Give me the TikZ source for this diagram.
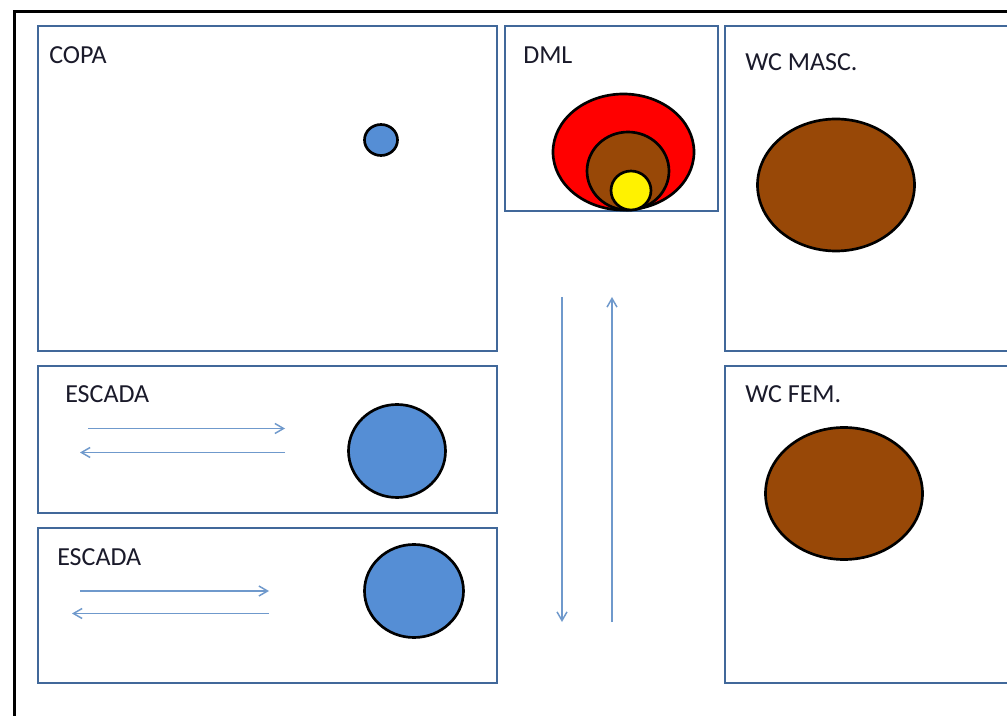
\documentclass[tikz,border=0pt]{standalone}
\usepackage{fontspec}
\setmainfont{Carlito}
\usetikzlibrary{arrows.meta,shapes.geometric}
\definecolor{boxblue}{HTML}{41689A}
\definecolor{arrowblue}{HTML}{6F99CC}
\definecolor{discblue}{HTML}{558ED5}
\definecolor{discbrown}{HTML}{984807}
\definecolor{labelink}{HTML}{1A1A2A}
\tikzset{
  x=0.75pt,y=-0.75pt,
  roombox/.style={draw=boxblue,line width=2.2pt,fill=white,rectangle,inner sep=0pt,outer sep=0pt},
  disc/.style={draw=black,line width=2pt,ellipse,inner sep=0pt,outer sep=0pt},
  flow/.style={draw=arrowblue,line width=1.1pt,-{Straight Barb[length=6.5pt,width=7.5pt,line width=1.1pt]}},
  label/.style={anchor=west,inner sep=0pt,font=\fontsize{19.5pt}{22pt}\selectfont,text=labelink},
}
\newcommand{\roomnode}[5]{\node[roombox,minimum width=#4*0.75pt,minimum height=#5*0.75pt] (#1) at (#2,#3) {};}
\newcommand{\discnode}[6]{\node[disc,fill=#6,minimum width=#4*0.75pt,minimum height=#5*0.75pt] (#1) at (#2,#3) {};}
\begin{document}
\begin{tikzpicture}
\useasboundingbox (0,0) rectangle (1007,716);
\clip (0,0) rectangle (1007,716);
\fill[white] (0,0) rectangle (1007,716);
\node[draw=black,line width=2.3pt,rectangle,inner sep=0pt,minimum width=1100*0.75pt,minimum height=800*0.75pt,anchor=north west] (frame) at (12.5,10) {};
\roomnode{copa}{267.5}{188.5}{459}{325}
\roomnode{esc1}{267.5}{439.5}{459}{147}
\roomnode{esc2}{267.5}{605.5}{459}{155}
\roomnode{dml}{611.5}{118.5}{213}{185}
\roomnode{wcm}{900}{188.5}{350}{325}
\roomnode{wcf}{900}{524.5}{350}{317}
\discnode{d1}{381}{140}{33}{31}{discblue}
\discnode{d2}{397}{451}{97}{93}{discblue}
\discnode{d3}{414}{591}{99}{93}{discblue}
\discnode{d4}{836}{185}{157}{132}{discbrown}
\discnode{d5}{844}{493.5}{157}{132}{discbrown}
\discnode{d6}{623.5}{152}{141}{116}{red}
\discnode{d7}{628}{171}{82}{78}{discbrown}
\discnode{d8}{631}{190.5}{40}{39}{yellow}
\node[label] (t1) at (49,55) {COPA};
\node[label] (t2) at (65,394) {ESCADA};
\node[label] (t3) at (57,557) {ESCADA};
\node[label] (t4) at (523,55) {DML};
\node[label] (t5) at (745,62) {WC MASC.};
\node[label] (t6) at (745,394) {WC FEM.};
\coordinate (a1s) at (88,428.5); \coordinate (a1e) at (285,428.5);
\coordinate (a2s) at (285,452.5); \coordinate (a2e) at (80,452.5);
\coordinate (a3s) at (80,591); \coordinate (a3e) at (269,591);
\coordinate (a4s) at (269,613.5); \coordinate (a4e) at (72,613.5);
\coordinate (a5s) at (562,297); \coordinate (a5e) at (562,622);
\coordinate (a6s) at (612,622); \coordinate (a6e) at (612,297);
\draw[flow] (a1s) -- (a1e);
\draw[flow] (a2s) -- (a2e);
\draw[flow] (a3s) -- (a3e);
\draw[flow] (a4s) -- (a4e);
\draw[flow] (a5s) -- (a5e);
\draw[flow] (a6s) -- (a6e);
\end{tikzpicture}
\end{document}
